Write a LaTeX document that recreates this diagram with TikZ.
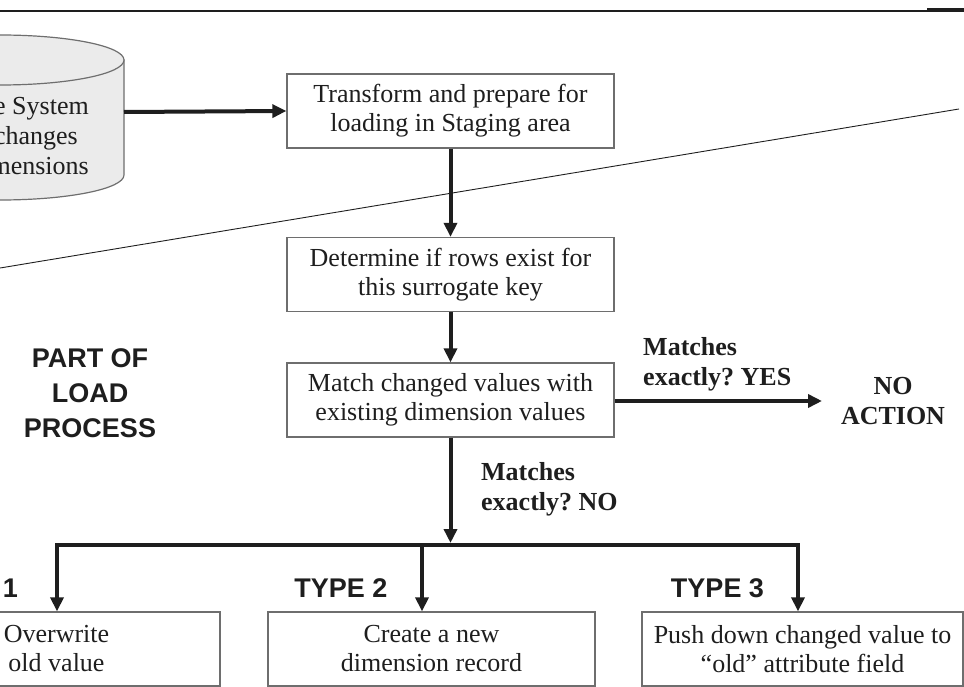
\documentclass[tikz,border=0pt]{standalone}
\usepackage{fontspec}
\setmainfont{Liberation Serif}
\newfontfamily\labelsans{Liberation Sans}
\usetikzlibrary{arrows.meta}
\definecolor{ink}{HTML}{1E1E1E}
\definecolor{edge}{HTML}{6E6E6E}
\definecolor{drum}{HTML}{EBEBEB}
\frenchspacing

\begin{document}
\begin{tikzpicture}[x=1pt,y=-1pt,
  stepbox/.style={draw=edge, line width=1.3pt, fill=white, minimum width=327pt,
    minimum height=74pt, inner sep=0pt, align=center, text=ink,
    font=\fontsize{26}{29}\selectfont},
  flow/.style={draw=ink, line width=4pt, -{Triangle[length=14pt,width=13pt]}},
  bar/.style={draw=ink, line width=4pt, line join=miter},
  cond/.style={font=\fontsize{26}{30}\selectfont\bfseries, text=ink, align=left, inner sep=0pt},
  tag/.style={font=\labelsans\fontsize{27}{35}\selectfont\bfseries, text=ink, inner sep=0pt, align=center},
  drumtext/.style={font=\fontsize{26}{30}\selectfont, text=ink, inner sep=0pt, anchor=base east}]

\useasboundingbox (0,0) rectangle (964,687);
\clip (0,0) rectangle (964,687);

% page rule at the top
\draw[ink, line width=1.5pt] (0,11) -- (964,11);
\fill[ink] (927,8.5) rectangle (964,12.5);

% boundary of the load process
\draw[ink, line width=0.9pt] (0,268) -- (959,109);

% source system drum
\path[draw=edge, line width=1.2pt, fill=drum]
  (-124,60) -- (-124,175) arc[start angle=180, end angle=0, x radius=124, y radius=25]
  -- (124,60) -- cycle;
\draw[edge, line width=1.2pt, fill=drum] (0,60) ellipse[x radius=124, y radius=25];
\node[drumtext] (d1) at (89,115) {e System};
\node[drumtext] (d2) at (78,145) {changes};
\node[drumtext] (d3) at (89,175) {mensions};
\coordinate (src) at (124,112);

% process steps
\node[stepbox] (prep)  at (450.5,111) {Transform and prepare for\\loading in Staging area};
\node[stepbox] (rows)  at (450.5,274.5) {Determine if rows exist for\\this surrogate key};
\node[stepbox] (match) at (450.5,400) {Match changed values with\\existing dimension values};

\node[stepbox] (t1) at (56.5,649) {Overwrite\\old value};
\node[stepbox] (t2) at (431.5,649) {Create a new\\dimension record};
\node[stepbox, minimum width=321pt] (t3) at (802.5,649) {Push down changed value to\\``old'' attribute field};

% labels
\node[tag] (part) at (90,393) {PART OF\\LOAD\\PROCESS};
\node[cond, anchor=west] (yes) at (643,364) {Matches\\exactly? YES};
\node[cond, align=center] (noact) at (893,401) {NO\\ACTION};
\node[cond, anchor=west] (no) at (481,489) {Matches\\exactly? NO};
\node[tag, anchor=east] (ty1) at (18,588) {TYPE 1};
\node[tag] (ty2) at (341,588) {TYPE 2};
\node[tag] (ty3) at (717.5,588) {TYPE 3};

% connectors
\draw[flow] (src) -- (prep.west);
\draw[flow] (prep.south) -- (rows.north);
\draw[flow] (rows.south) -- (match.north);
\coordinate (yesend) at (822,401);
\draw[flow] (match.east |- yesend) -- (yesend);

\coordinate (jc) at (450.5,543);
\draw[flow] (match.south) -- (jc);
\coordinate (j1) at (57,545);
\coordinate (j2) at (422,545);
\coordinate (j3) at (798,545);
\draw[bar, {Triangle[length=14pt,width=13pt]}-{Triangle[length=14pt,width=13pt]}]
  (j1 |- t1.north) -- (j1) -- (j3) -- (j3 |- t3.north);
\draw[flow] (j2) -- (j2 |- t2.north);
\end{tikzpicture}
\end{document}
